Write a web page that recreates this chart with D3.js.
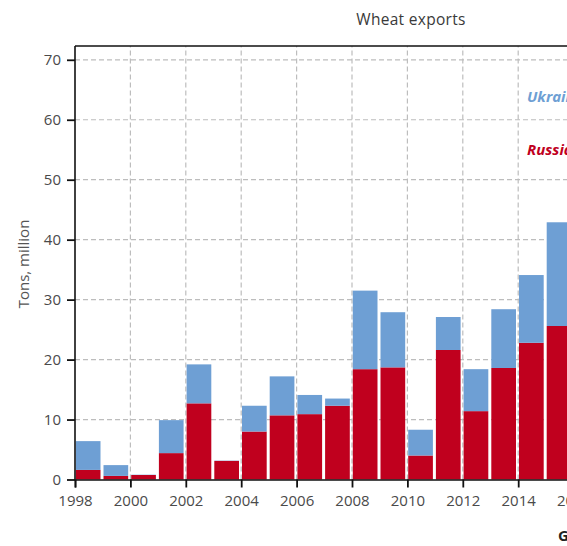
<!DOCTYPE html>
<html>
<head>
<meta charset="utf-8">
<script src="https://cdn.jsdelivr.net/npm/d3@7"></script>
<style>
  body { margin: 0; background: #fff; overflow: hidden; }
  text { font-family: "Open Sans", sans-serif; }
</style>
</head>
<body>
<div id="root"></div>
<script>
// DATA
const years = [1998, 1999, 2000, 2001, 2002, 2003, 2004, 2005, 2006, 2007, 2008, 2009, 2010, 2011, 2012, 2013, 2014, 2015];
const russia = [1.6, 0.6, 0.75, 4.4, 12.7, 3.1, 8.0, 10.7, 10.9, 12.3, 18.4, 18.7, 4.0, 21.6, 11.4, 18.6, 22.8, 25.6];
const ukraine = [4.8, 1.8, 0.05, 5.5, 6.5, 0.05, 4.3, 6.5, 3.2, 1.2, 13.1, 9.2, 4.3, 5.5, 7.0, 9.8, 11.3, 17.3];
const yTicks = [0, 10, 20, 30, 40, 50, 60, 70];
const xTicks = [1998, 2000, 2002, 2004, 2006, 2008, 2010, 2012, 2014, 2016, 2018];
const seriesNames = ["Ukraine", "Russia"];

// DIMENSIONS
const width = 567, height = 546;
const margin = {top: 46, left: 75, bottom: 66.5};

const svg = d3.select('#root')
  .append('svg')
  .attr('width', width)
  .attr('height', height);

// SCALES
const x = d3.scaleLinear()
  .domain([1998, 2018])
  .range([margin.left, margin.left + 20 * 27.7]);

const y = d3.scaleLinear()
  .domain([0, 72.3])
  .range([height - margin.bottom, margin.top]);

const colors = {Russia: "#c0001e", Ukraine: "#6e9fd4"};

// GRIDLINES
const grid = svg.append('g')
  .attr('stroke', '#bdbdbd')
  .attr('stroke-width', 1.2)
  .attr('stroke-dasharray', '5,3');

grid.selectAll('.hg')
  .data(yTicks.filter(d => d > 0))
  .enter().append('line')
  .attr('x1', x(1998)).attr('x2', x(2018))
  .attr('y1', d => y(d)).attr('y2', d => y(d));

grid.selectAll('.vg')
  .data(xTicks.filter(d => d > 1998))
  .enter().append('line')
  .attr('x1', d => x(d)).attr('x2', d => x(d))
  .attr('y1', y(0)).attr('y2', y(72.3));

// STACKED BARS
const rows = years.map((yr, i) => ({year: yr, Russia: russia[i], Ukraine: ukraine[i]}));
const stack = d3.stack().keys(["Russia", "Ukraine"])(rows);

svg.append('g')
  .selectAll('g')
  .data(stack)
  .enter().append('g')
  .attr('fill', d => colors[d.key])
  .selectAll('rect')
  .data(d => d)
  .enter().append('rect')
  .attr('x', d => x(d.data.year) + 0.8)
  .attr('width', d => x(d.data.year + 1) - x(d.data.year) - 3)
  .attr('y', d => y(d[1]))
  .attr('height', d => y(d[0]) - y(d[1]));

// FRAME
svg.append('line')
  .attr('x1', x(1998)).attr('x2', x(2018))
  .attr('y1', y(72.3)).attr('y2', y(72.3))
  .attr('stroke', '#111').attr('stroke-width', 1.6);

// AXES
const yAxis = svg.append('g')
  .attr('transform', `translate(${x(1998)},0)`)
  .call(d3.axisLeft(y).tickValues(yTicks).tickSize(8).tickPadding(6));

const xAxis = svg.append('g')
  .attr('transform', `translate(0,${y(0)})`)
  .call(d3.axisBottom(x).tickValues(xTicks).tickFormat(d3.format('d')).tickSize(8).tickPadding(8));

[yAxis, xAxis].forEach(a => {
  a.select('.domain').attr('stroke', '#111').attr('stroke-width', 1.6);
  a.selectAll('.tick line').attr('stroke', '#111').attr('stroke-width', 1.8);
  a.selectAll('.tick text').attr('fill', '#4a4a4a').style('font-size', '15px').style('font-family', '"Open Sans", sans-serif');
});
yAxis.select('.domain').attr('d', `M0,${y(0)}V${y(72.3)}`);

// TITLES
svg.append('text')
  .attr('x', 411).attr('y', 25)
  .attr('text-anchor', 'middle')
  .attr('fill', '#3a3a3a')
  .style('font-size', '15.5px')
  .style('letter-spacing', '0.3px')
  .text('Wheat exports');

svg.append('text')
  .attr('transform', `translate(29,264) rotate(-90)`)
  .attr('text-anchor', 'middle')
  .attr('fill', '#555')
  .style('font-size', '15px')
  .text('Tons, million');

// SERIES LABELS
svg.selectAll('.lbl')
  .data(seriesNames)
  .enter().append('text')
  .attr('x', 527)
  .attr('y', (d, i) => y(i === 0 ? 63 : 54.1))
  .attr('fill', d => colors[d])
  .style('font-size', '15px')
  .style('font-weight', 'bold')
  .style('font-style', 'italic')
  .text(d => d);

svg.append('text')
  .attr('x', 558).attr('y', 541)
  .attr('fill', '#222')
  .style('font-size', '15px')
  .style('font-weight', 'bold')
  .text('G');
</script>
</body>
</html>
